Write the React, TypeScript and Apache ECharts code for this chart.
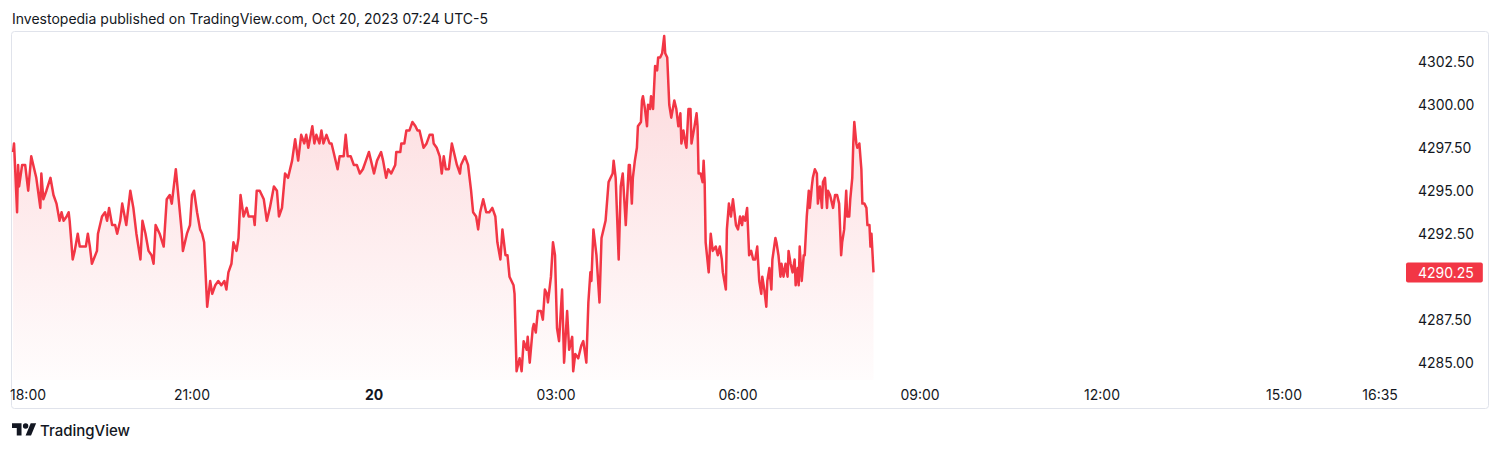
import React, { useEffect, useRef } from "react";
import * as echarts from "echarts";

const TITLE = "Investopedia published on TradingView.com, Oct 20, 2023 07:24 UTC-5";
const BRAND = "TradingView";

// minutes after 18:00 (Oct 19) and E-mini S&P 500 price
const minutes = [
  3, 4, 7, 8, 9, 12, 13, 15, 18, 21, 25, 26, 30, 31, 33, 36, 40, 43, 46, 49, 51, 53, 56, 58, 59, 62, 64, 67, 69, 75,
  77, 79, 81, 86, 87, 91, 94, 96, 98, 101, 104, 106, 109, 111, 115, 119, 122, 125, 129, 131, 134, 137, 140, 142, 144, 148, 152, 155, 158, 160,
  164, 166, 170, 171, 175, 178, 180, 182, 185, 188, 190, 192, 195, 198, 200, 203, 206, 209, 212, 214, 216, 219, 221, 224, 226, 228, 231, 234, 236, 241,
  242, 244, 247, 251, 254, 257, 261, 264, 266, 269, 272, 275, 279, 282, 285, 288, 291, 293, 295, 299, 301, 303, 306, 308, 310, 313, 316, 318, 320, 324,
  326, 330, 332, 334, 337, 340, 343, 346, 349, 352, 355, 357, 360, 363, 367, 369, 372, 374, 377, 381, 382, 386, 387, 390, 392, 395, 398, 401, 403, 405,
  409, 412, 415, 418, 419, 422, 425, 427, 429, 431, 434, 437, 438, 442, 445, 446, 450, 453, 456, 458, 461, 463, 465, 468, 471, 474, 477, 480, 482, 485,
  487, 490, 492, 494, 498, 499, 501, 504, 506, 508, 511, 512, 514, 517, 518, 520, 522, 525, 527, 529, 531, 532, 535, 537, 539, 541, 543, 546, 548, 551,
  553, 556, 557, 559, 562, 565, 567, 570, 572, 574, 575, 577, 580, 583, 585, 587, 589, 592, 594, 596, 597, 599, 602, 604, 606, 609, 612, 613, 615, 616,
  618, 620, 621, 624, 625, 626, 628, 630, 631, 633, 634, 636, 638, 640, 641, 643, 645, 647, 648, 650, 652, 654, 657, 659, 661, 663, 664, 666, 668, 669,
  671, 673, 674, 677, 679, 680, 681, 683, 685, 686, 687, 688, 691, 693, 695, 698, 700, 702, 704, 705, 708, 709, 711, 713, 715, 716, 718, 720, 722, 724,
  725, 727, 729, 731, 733, 735, 737, 739, 741, 743, 744, 746, 748, 749, 751, 753, 754, 757, 758, 760, 762, 763, 765, 767, 769, 770, 772, 774, 776, 777,
  779, 780, 781, 783, 785, 786, 788, 790, 791, 793, 794, 796, 798, 799, 801, 803, 804, 806, 808, 809, 811, 814, 816, 818, 820, 822, 823, 825, 827, 828,
  830, 831, 833, 834, 835, 837, 838, 840, 842, 843, 845, 847, 848, 850, 851, 852, 854,
];

const prices = [
  4297.25, 4297.75, 4293.75, 4296.5, 4295.25, 4296.5, 4296.5, 4296.5, 4295.0, 4297.0, 4296.0, 4295.75, 4294.0, 4296.0, 4294.5, 4295.0, 4295.75, 4294.75, 4294.25, 4293.25, 4293.75, 4293.25, 4293.5, 4293.75, 4293.25, 4291.0, 4291.5, 4292.5, 4291.75, 4291.75,
  4292.5, 4291.75, 4290.75, 4291.5, 4292.5, 4293.5, 4293.75, 4293.25, 4294.0, 4293.0, 4293.0, 4292.5, 4293.25, 4294.25, 4293.0, 4295.0, 4294.0, 4292.5, 4291.0, 4293.25, 4292.5, 4291.5, 4291.25, 4290.75, 4293.0, 4292.5, 4291.75, 4294.5, 4294.75, 4294.25,
  4296.25, 4295.0, 4292.5, 4291.5, 4292.5, 4293.0, 4294.75, 4295.0, 4293.75, 4292.75, 4292.5, 4292.0, 4288.25, 4289.75, 4289.0, 4289.5, 4289.75, 4289.5, 4289.75, 4289.25, 4290.25, 4290.75, 4292.0, 4291.5, 4292.25, 4294.75, 4293.5, 4294.0, 4293.5, 4293.5,
  4293.0, 4295.0, 4295.0, 4294.5, 4293.25, 4294.0, 4295.25, 4295.0, 4293.5, 4294.0, 4296.0, 4295.75, 4296.75, 4298.0, 4296.75, 4298.25, 4297.75, 4298.25, 4297.5, 4298.75, 4297.75, 4298.25, 4297.75, 4298.5, 4297.75, 4298.25, 4297.75, 4297.75, 4297.25, 4296.25,
  4297.0, 4297.0, 4298.25, 4297.0, 4297.0, 4296.5, 4296.5, 4296.0, 4296.25, 4296.75, 4297.25, 4296.75, 4296.0, 4296.75, 4297.25, 4296.75, 4295.75, 4296.25, 4296.0, 4296.5, 4297.25, 4297.25, 4297.75, 4297.75, 4298.5, 4298.5, 4299.0, 4298.75, 4298.5, 4298.5,
  4297.5, 4297.75, 4298.25, 4298.25, 4297.75, 4297.5, 4297.0, 4296.0, 4297.0, 4296.25, 4296.25, 4297.75, 4297.5, 4296.5, 4296.0, 4296.5, 4297.0, 4296.5, 4295.0, 4293.75, 4293.5, 4292.75, 4293.75, 4294.5, 4293.75, 4293.75, 4294.0, 4293.5, 4292.0, 4291.0,
  4292.75, 4291.25, 4291.25, 4290.0, 4289.5, 4289.0, 4284.5, 4285.25, 4284.5, 4286.25, 4285.75, 4286.5, 4285.0, 4287.0, 4287.25, 4286.75, 4288.0, 4288.0, 4287.5, 4289.25, 4289.0, 4288.5, 4290.0, 4292.0, 4291.25, 4287.0, 4286.25, 4289.25, 4285.0, 4288.0,
  4285.75, 4286.5, 4284.5, 4285.5, 4285.25, 4286.0, 4286.25, 4285.0, 4288.5, 4290.25, 4289.75, 4292.75, 4291.25, 4288.5, 4292.25, 4292.75, 4293.25, 4295.5, 4295.75, 4296.0, 4296.75, 4295.75, 4291.0, 4295.25, 4296.0, 4293.0, 4296.5, 4296.5, 4294.25, 4295.75,
  4296.75, 4297.5, 4298.75, 4299.0, 4300.25, 4300.5, 4299.75, 4298.75, 4300.0, 4299.75, 4300.5, 4299.75, 4302.25, 4302.0, 4302.75, 4302.75, 4303.0, 4304.0, 4303.0, 4302.75, 4300.0, 4299.25, 4300.25, 4299.75, 4298.75, 4299.5, 4297.75, 4298.5, 4297.75, 4297.5,
  4299.75, 4299.75, 4297.75, 4298.75, 4299.5, 4298.75, 4296.0, 4296.0, 4295.5, 4296.75, 4295.5, 4292.0, 4290.25, 4292.5, 4291.5, 4291.75, 4291.25, 4291.75, 4291.0, 4290.25, 4289.25, 4292.75, 4294.25, 4293.5, 4294.5, 4294.0, 4293.0, 4292.75, 4293.5, 4293.0,
  4293.5, 4293.25, 4294.0, 4291.25, 4291.5, 4291.0, 4291.0, 4291.75, 4289.75, 4289.0, 4290.0, 4289.25, 4288.25, 4289.75, 4290.5, 4289.25, 4291.0, 4292.25, 4292.0, 4291.25, 4290.0, 4290.75, 4290.0, 4290.75, 4290.0, 4291.5, 4290.75, 4290.25, 4291.0, 4289.5,
  4290.5, 4289.5, 4291.75, 4289.75, 4291.25, 4291.25, 4293.5, 4295.0, 4294.0, 4295.25, 4295.75, 4296.25, 4296.0, 4294.25, 4295.25, 4294.0, 4295.5, 4295.75, 4294.0, 4295.0, 4294.75, 4294.0, 4294.75, 4294.75, 4294.25, 4291.25, 4292.0, 4292.75, 4295.0, 4293.5,
  4293.5, 4294.5, 4295.75, 4297.75, 4299.0, 4297.75, 4297.5, 4297.75, 4296.25, 4294.25, 4294.25, 4294.0, 4293.0, 4293.0, 4291.75, 4292.5, 4290.25,
];

// time axis: minutes after 18:00; tick labels
const timeTicks = [0, 180, 360, 540, 720, 900, 1080, 1260, 1355];
const dayBreakMinute = 360;
const dayBreakLabel = "20";
const timeMin = 0;
const timeMax = 1374.7;

// price axis
const priceMin = 4283.99;
const priceMax = 4304.29;
const priceStep = 2.5;

const FONT = "Inter, 'Noto Sans', sans-serif";
const TEXT = "#131722";
const RED = "#f23645";

const LOGO_D = "M14 22H7V11H0V4h14v18zM28 22h-8l7.5-18h8L28 22zM24 8a4 4 0 1 1-8 0a4 4 0 1 1 8 0z";

function fmtTime(v: number): string {
  if (v === dayBreakMinute) return "{b|" + dayBreakLabel + "}";
  const total = 18 * 60 + v;
  const h = Math.floor(total / 60) % 24;
  const m = total % 60;
  return String(h).padStart(2, "0") + ":" + String(m).padStart(2, "0");
}

export default function App() {
  const ref = useRef<HTMLDivElement>(null);
  useEffect(() => {
    if (!ref.current) return;
    try {
      echarts.graphic.registerShape("tvlogo", echarts.graphic.extendPath(LOGO_D as any, {}) as any);
    } catch (e) {}
    const chart = echarts.init(ref.current, null, { renderer: "svg" });
    const data = minutes.map((m, i) => [m, prices[i]]);
    const last = prices[prices.length - 1];
    chart.setOption({
      animation: false,
      backgroundColor: "#ffffff",
      grid: { left: 10, right: 100, top: 31, bottom: 70, containLabel: false },
      xAxis: {
        type: "value",
        min: timeMin,
        max: timeMax,
        axisLine: { show: false },
        axisTick: { show: false },
        splitLine: { show: false },
        axisLabel: {
          customValues: timeTicks,
          formatter: fmtTime,
          color: TEXT,
          fontSize: 14,
          fontFamily: FONT,
          margin: 7,
          alignMinLabel: "left",
          rich: { b: { fontWeight: "bold", fontSize: 14, fontFamily: FONT, color: TEXT } },
        },
      },
      yAxis: {
        type: "value",
        position: "right",
        min: priceMin,
        max: priceMax,
        minInterval: priceStep,
        maxInterval: priceStep,
        axisLine: { show: false },
        axisTick: { show: false },
        splitLine: { show: false },
        axisLabel: {
          color: TEXT,
          fontSize: 14,
          fontFamily: FONT,
          margin: 18,
          showMinLabel: false,
          showMaxLabel: false,
          // the last-price tag hides the tick label it covers
          formatter: (v: number) => (Math.abs(v - last) < 1 ? "" : v.toFixed(2)),
        },
      },
      series: [
        {
          type: "line",
          data,
          showSymbol: false,
          symbol: "none",
          lineStyle: { color: RED, width: 2.5, join: "round" },
          itemStyle: { color: RED },
          areaStyle: {
            color: new echarts.graphic.LinearGradient(0, 0, 0, 1, [
              { offset: 0, color: "rgba(242,54,69,0.28)" },
              { offset: 1, color: "rgba(242,54,69,0.02)" },
            ]),
          },
          markLine: {
            silent: true,
            symbol: ["none", "none"],
            lineStyle: { color: "rgba(0,0,0,0)", width: 0 },
            data: [{ yAxis: last }],
            label: {
              show: true,
              position: "end",
              distance: 6,
              formatter: () => last.toFixed(2),
              color: "#ffffff",
              backgroundColor: RED,
              borderRadius: 2,
              padding: [4, 9, 3, 12],
              fontSize: 14,
              fontFamily: FONT,
              lineHeight: 13,
              opacity: 1,
            },
          },
        },
      ],
      graphic: [
        {
          type: "rect",
          shape: { x: 11.5, y: 31.5, width: 1477, height: 377, r: 3 },
          style: { fill: "none", stroke: "#e0e3eb", lineWidth: 1 },
          silent: true,
        },
        {
          type: "text",
          x: 12,
          y: 18.5,
          style: { text: TITLE, fontSize: 14, fontFamily: FONT, fill: TEXT, verticalAlign: "middle", align: "left" },
        },
        {
          type: "tvlogo",
          x: 12,
          y: 420.5,
          scaleX: 0.68,
          scaleY: 0.68,
          style: { fill: TEXT },
        },
        {
          type: "text",
          x: 40,
          y: 430,
          style: { text: BRAND, fontSize: 15, fontWeight: 500, fontFamily: FONT, fill: TEXT, verticalAlign: "middle", align: "left" },
        },
      ],
    });
    return () => chart.dispose();
  }, []);
  return <div ref={ref} style={{ position: "absolute", left: 0, top: 0, width: 1500, height: 450 }} />;
}
